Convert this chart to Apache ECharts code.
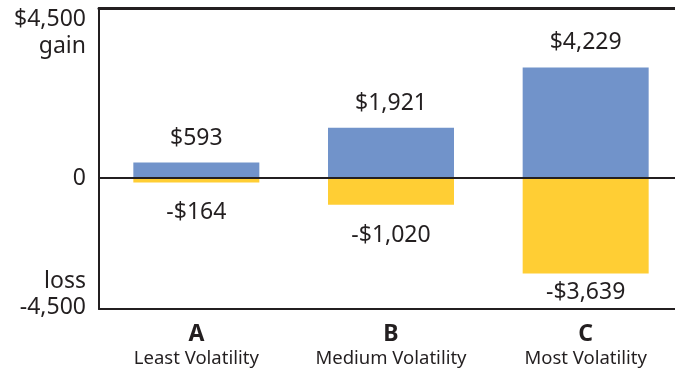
<!DOCTYPE html>
<html>
<head>
<meta charset="utf-8">
<script src="https://cdn.jsdelivr.net/npm/echarts@6/dist/echarts.min.js"></script>
<style>html,body{margin:0;padding:0;background:#fff}#c{width:675px;height:370px}</style>
</head>
<body>
<div id="c"></div>
<script>
const categories = ['A', 'B', 'C'];
const subtitles = ['Least Volatility', 'Medium Volatility', 'Most Volatility'];
const gains = [593, 1921, 4229];
const losses = [-164, -1020, -3639];
const yTopLabel = '$4,500\ngain';
const yZeroLabel = '0';
const yBottomLabel = 'loss\n-4,500';

const FONT = '"Noto Sans", sans-serif';
const INK = '#231f20';
const fmt = v => (v < 0 ? '-$' : '$') + Math.abs(v).toLocaleString('en-US');

const chart = echarts.init(document.getElementById('c'), null, {renderer: 'canvas'});
chart.setOption({
  animation: false,
  grid: {left: 99, width: 584, top: 8, bottom: 61, containLabel: false, outerBoundsMode: 'none'},
  xAxis: [{
    type: 'category',
    data: categories,
    position: 'bottom',
    axisLine: {onZero: false, lineStyle: {color: INK, width: 2}},
    axisTick: {show: false},
    axisLabel: {
      margin: 12,
      formatter: (v, i) => '{b|' + v + '}\n{s|' + subtitles[i] + '}',
      rich: {
        b: {fontFamily: FONT, fontWeight: 'bold', fontSize: 23, color: INK, lineHeight: 26},
        s: {fontFamily: FONT, fontSize: 18.5, color: INK, lineHeight: 24}
      }
    }
  }, {
    type: 'category',
    data: categories,
    position: 'top',
    axisLine: {show: true, onZero: false, lineStyle: {color: INK, width: 3}},
    axisTick: {show: false},
    axisLabel: {show: false}
  }],
  yAxis: {
    type: 'value',
    min: -5000,
    max: 6500,
    interval: 500,
    axisLine: {show: true, lineStyle: {color: INK, width: 2}},
    axisTick: {show: false},
    splitLine: {show: false},
    axisLabel: {
      margin: 13,
      fontFamily: FONT, fontSize: 23, color: INK,
      formatter: v => v === 0 ? yZeroLabel : ''
    }
  },
  series: [{
    type: 'bar',
    stack: 'v',
    data: gains,
    barWidth: 126,
    itemStyle: {color: '#7193ca'},
    label: {show: true, position: 'top', distance: 13, fontFamily: FONT, fontSize: 23, color: INK, formatter: p => fmt(p.value)},
    markLine: {
      silent: true,
      symbol: 'none',
      label: {show: false},
      lineStyle: {color: INK, width: 2, type: 'solid'},
      data: [{yAxis: 0}],
      z: 10
    }
  }, {
    type: 'bar',
    stack: 'v',
    data: losses.map((v, i) => i === losses.length - 1 ? {value: v, label: {distance: 8}} : v),
    barWidth: 126,
    itemStyle: {color: '#ffce34'},
    label: {show: true, position: 'bottom', distance: 19, fontFamily: FONT, fontSize: 23, color: INK, formatter: p => fmt(p.value)}
  }],
  graphic: [{
    type: 'text', x: 86, y: 6,
    style: {text: yTopLabel, fontFamily: FONT, fontSize: 23, fill: INK, align: 'right', verticalAlign: 'top', lineHeight: 27}
  }, {
    type: 'text', x: 86, y: 320,
    style: {text: yBottomLabel, fontFamily: FONT, fontSize: 23, fill: INK, align: 'right', verticalAlign: 'bottom', lineHeight: 26}
  }]
});
</script>
</body>
</html>
